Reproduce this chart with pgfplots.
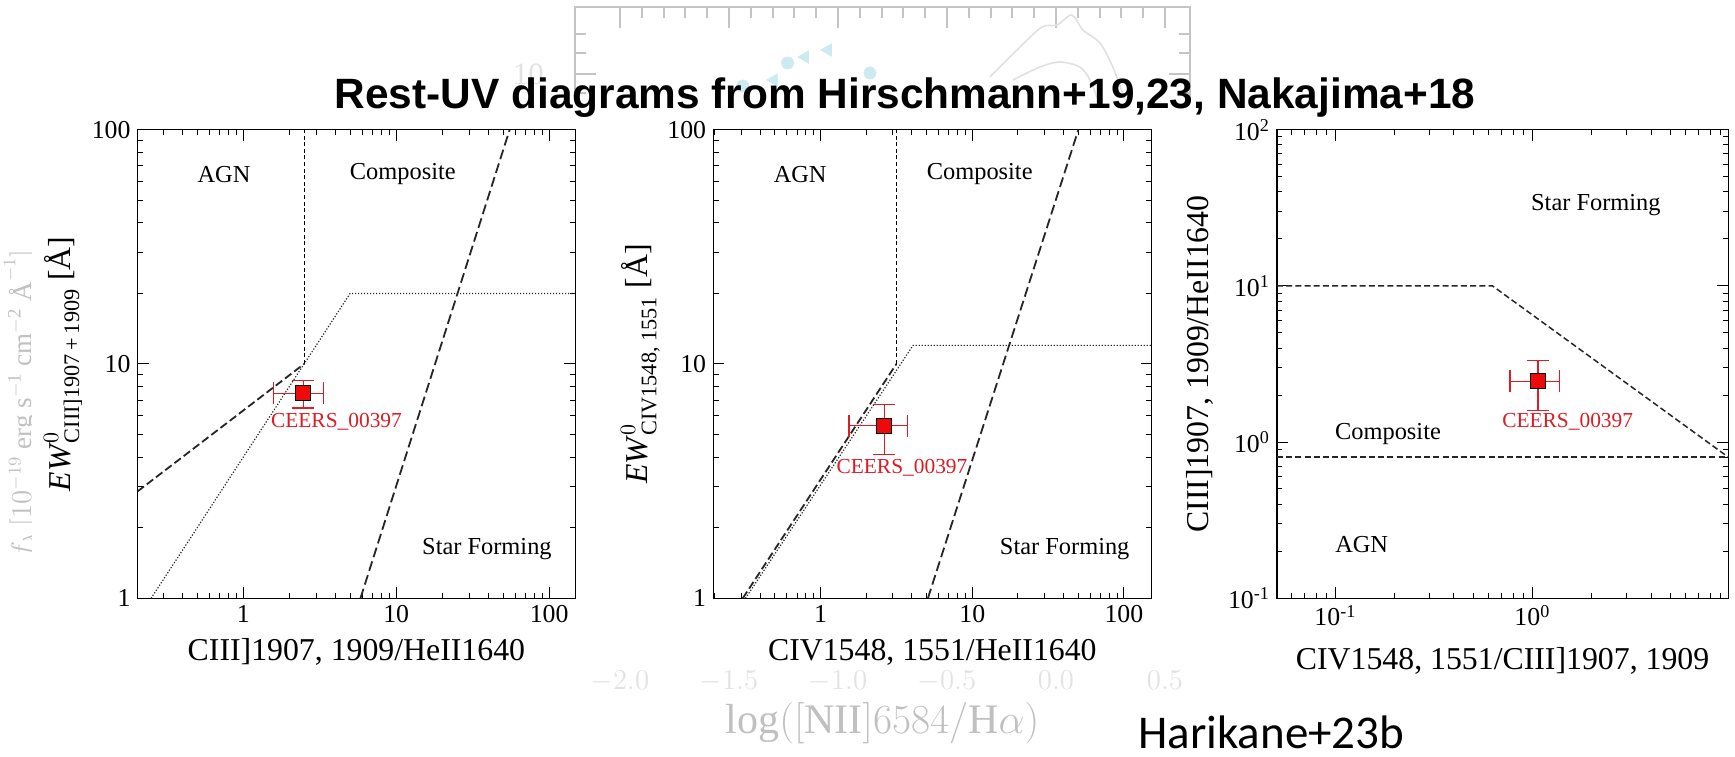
\documentclass[border=0pt]{standalone}
\usepackage{fontspec}
\usepackage{amsmath}
\usepackage{pgfplots}
\pgfplotsset{compat=1.18}
\setmainfont{Liberation Serif}
\newfontfamily\titlefont{Liberation Sans}
\newfontfamily\notefont{Carlito}

\definecolor{ceersred}{RGB}{222,28,36}
\definecolor{markred}{RGB}{238,10,10}
\definecolor{ghostline}{RGB}{196,196,196}
\definecolor{ghosttext}{RGB}{226,226,226}
\definecolor{ghostlabel}{RGB}{192,192,192}
\definecolor{ghostcyan}{RGB}{204,234,240}
\definecolor{ghostcurve}{RGB}{224,224,224}

\tikzset{
  bounddash/.style={black, line width=0.5pt, dash pattern=on 2pt off 1.3pt},
  agndash/.style={black!85, line width=0.9pt, dash pattern=on 4pt off 1.8pt},
  dotline/.style={black!85, line width=0.6pt, dash pattern=on 0.6pt off 0.9pt},
  sfdash/.style={black!85, line width=0.9pt, dash pattern=on 5pt off 2.2pt},
  ncdash/.style={black!85, line width=0.75pt, dash pattern=on 3pt off 1.6pt},
  region/.style={font=\fontsize{12.2}{14}\selectfont},
  objlabel/.style={text=ceersred, font=\fontsize{10.7}{12}\selectfont},
}

\pgfplotsset{
  /pgfplots/uvaxis/.style={
    scale only axis, anchor=south west,
    axis line style={line width=0.6pt},
    every tick/.style={black, line width=0.5pt},
    major tick length=5.5pt, minor tick length=2.8pt,
    tick align=inside,
    ticklabel style={font=\fontsize{12.9}{14}\selectfont},
    label style={font=\fontsize{15.9}{18}\selectfont},
    ylabel style={anchor=center},
    xlabel style={anchor=base},
  },
}

\begin{document}
\begin{tikzpicture}
\path[use as bounding box] (0,0) rectangle (867.5pt,378pt);

% faded figure in the background
\begin{axis}[
  at={(287.5pt,48pt)}, anchor=south west, scale only axis,
  width=307.5pt, height=326.5pt,
  xmin=-2.206, xmax=0.615, ymin=0, ymax=65.3,
  axis line style={ghostline, line width=1pt},
  every tick/.style={ghostline, line width=1pt},
  major tick length=10.5pt, minor tick length=5.5pt,
  xtick={-2,-1.5,-1,-0.5,0,0.5},
  xticklabels={$-2.0$,$-1.5$,$-1.0$,$-0.5$,$0.0$,$0.5$},
  minor x tick num=4,
  ytick={58.6}, yticklabels={10}, minor ytick={52.7,54.7,56.7,60.7,62.6},
  xticklabel style={text=ghosttext, font=\fontsize{15.5}{17}\selectfont, yshift=-2pt},
  yticklabel style={text=ghosttext, font=\fontsize{15.5}{17}\selectfont, xshift=-12pt},
  xlabel={$\log([\mathrm{NII}]6584/\mathrm{H}\alpha)$},
  xlabel style={text=ghostlabel, font=\fontsize{21}{24}\selectfont,
    at={(axis description cs:0.5,-0.097)}, anchor=center},
]
\addplot[ghostcurve, line width=0.8pt, smooth] coordinates {
  (-0.303,58.3) (-0.165,61.3) (-0.064,63.3) (0.005,63.5) (0.073,64.5)
  (0.124,63.0) (0.202,61.7) (0.261,59.3) (0.317,56.0)};
\addplot[ghostcurve, line width=0.8pt, smooth] coordinates {
  (-0.197,58.0) (-0.073,59.3) (0.018,59.8) (0.11,59.3) (0.156,58.0) (0.193,56.0)};
\addplot[only marks, mark=*, mark size=3pt, ghostcyan] coordinates {
  (-1.231,59.7) (-0.853,58.7) (-1.436,57.4)};
\addplot[only marks, mark=triangle*, mark size=3.5pt, ghostcyan,
  mark options={rotate=90}] coordinates {
  (-1.151,60.3) (-1.046,61.0) (-1.294,58.0)};
\end{axis}
\node[rotate=90, text=ghostlabel, font=\fontsize{13.5}{15}\selectfont] at (10.5pt,176pt)
  {$f_\lambda\ [10^{-19}\ \mathrm{erg\ s^{-1}\ cm^{-2}}\ \text{\AA}^{-1}]$};

\fill[white] (16pt,46.5pt) rectangle (867.5pt,328pt);

% CIII] / HeII versus EW(CIII])
\begin{axis}[uvaxis, xmode=log, ymode=log,
  at={(68.8pt,78.85pt)}, width=218.8pt, height=234.35pt,
  xmin=0.204, xmax=148, ymin=1, ymax=100,
  xtick={1,10,100}, xticklabels={1,10,100},
  ytick={1,10,100}, yticklabels={1,10,100},
  minor xtick={0.3,0.4,0.5,0.6,0.7,0.8,0.9,2,3,4,5,6,7,8,9,20,30,40,50,60,70,80,90},
  minor ytick={2,3,4,5,6,7,8,9,20,30,40,50,60,70,80,90},
  xlabel={CIII]1907, 1909/HeII1640},
  ylabel={\textit{EW}$^{0}_{\text{CIII]1907\,+\,1909}}$ [Å]},
  xlabel style={at={(axis description cs:0.5,-0.1327)}},
  ylabel style={at={(axis description cs:-0.1705,0.5)}},
]
\addplot[bounddash] coordinates {(2.5,10) (2.5,100)};
\addplot[agndash] coordinates {(0.204,2.86) (2.5,10)};
\addplot[dotline] coordinates {(0.25,1) (5,20) (148,20)};
\addplot[sfdash] coordinates {(5.84,1) (55.2,100)};
\addplot[only marks, mark=square*, mark size=3.7pt,
  mark options={fill=markred, draw=black, line width=0.6pt},
  error bars/.cd, x dir=both, x explicit, y dir=both, y explicit,
  error bar style={ceersred, line width=0.6pt},
  error mark options={rotate=90, ceersred, line width=0.6pt, mark size=5.5pt}]
  coordinates {(2.47,7.5) += (0.88,1.02) -= (0.885,1.01)};
\node[region] at (axis cs:0.749,64.4) {AGN};
\node[region] at (axis cs:11.05,64.4) {Composite};
\node[region] at (axis cs:39.2,1.615) {Star Forming};
\node[objlabel] at (axis cs:4.07,5.69) {CEERS\_00397};
\end{axis}

% CIV / HeII versus EW(CIV)
\begin{axis}[uvaxis, xmode=log, ymode=log,
  at={(356.6pt,78.85pt)}, width=219.15pt, height=234.35pt,
  xmin=0.196, xmax=152, ymin=1, ymax=100,
  xtick={1,10,100}, xticklabels={1,10,100},
  ytick={1,10,100}, yticklabels={1,10,100},
  minor xtick={0.2,0.3,0.4,0.5,0.6,0.7,0.8,0.9,2,3,4,5,6,7,8,9,20,30,40,50,60,70,80,90},
  minor ytick={2,3,4,5,6,7,8,9,20,30,40,50,60,70,80,90},
  xlabel={CIV1548, 1551/HeII1640},
  ylabel={\textit{EW}$^{0}_{\text{CIV1548, 1551}}$ [Å]},
  xlabel style={at={(axis description cs:0.5,-0.1327)}},
  ylabel style={at={(axis description cs:-0.166,0.5)}},
]
\addplot[bounddash] coordinates {(3.16,10) (3.16,100)};
\addplot[agndash] coordinates {(0.307,1) (3.16,10)};
\addplot[dotline] coordinates {(0.32,1) (4.07,12) (152,12)};
\addplot[sfdash] coordinates {(5.1,1) (50.1,100)};
\addplot[only marks, mark=square*, mark size=3.7pt,
  mark options={fill=markred, draw=black, line width=0.6pt},
  error bars/.cd, x dir=both, x explicit, y dir=both, y explicit,
  error bar style={ceersred, line width=0.6pt},
  error mark options={rotate=90, ceersred, line width=0.6pt, mark size=5.5pt}]
  coordinates {(2.63,5.45) += (1.11,1.28) -= (1.09,1.34)};
\node[region] at (axis cs:0.734,64.4) {AGN};
\node[region] at (axis cs:11.2,64.4) {Composite};
\node[region] at (axis cs:40.7,1.615) {Star Forming};
\node[objlabel] at (axis cs:3.44,3.59) {CEERS\_00397};
\end{axis}

% CIV / CIII] versus CIII] / HeII
\begin{axis}[uvaxis, xmode=log, ymode=log,
  at={(638.45pt,78.95pt)}, width=225.7pt, height=234.15pt,
  xmin=0.0505, xmax=9.87, ymin=0.1, ymax=100,
  xtick={0.1,1}, xticklabels={10\textsuperscript{-1},10\textsuperscript{0}},
  ytick={0.1,1,10,100},
  yticklabels={10\textsuperscript{-1},10\textsuperscript{0},10\textsuperscript{1},10\textsuperscript{2}},
  minor xtick={0.06,0.07,0.08,0.09,0.2,0.3,0.4,0.5,0.6,0.7,0.8,0.9,2,3,4,5,6,7,8,9},
  minor ytick={0.2,0.3,0.4,0.5,0.6,0.7,0.8,0.9,2,3,4,5,6,7,8,9,20,30,40,50,60,70,80,90},
  xlabel={CIV1548, 1551/CIII]1907, 1909},
  ylabel={CIII]1907, 1909/HeII1640},
  xlabel style={at={(axis description cs:0.5,-0.1514)}},
  ylabel style={at={(axis description cs:-0.1715,0.5)}},
]
\addplot[ncdash] coordinates {(0.0505,10) (0.627,10) (9.87,0.80)};
\addplot[ncdash] coordinates {(0.0505,0.8) (9.87,0.8)};
\addplot[only marks, mark=square*, mark size=3.7pt,
  mark options={fill=markred, draw=black, line width=0.6pt},
  error bars/.cd, x dir=both, x explicit, y dir=both, y explicit,
  error bar style={ceersred, line width=0.6pt},
  error mark options={rotate=90, ceersred, line width=0.6pt, mark size=5.5pt}]
  coordinates {(1.067,2.45) += (0.301,0.87) -= (0.297,0.85)};
\node[region] at (axis cs:2.1,33) {Star Forming};
\node[region] at (axis cs:0.185,1.12) {Composite};
\node[region] at (axis cs:0.136,0.22) {AGN};
\node[objlabel] at (axis cs:1.51,1.354) {CEERS\_00397};
\end{axis}

\node[anchor=base, font=\titlefont\bfseries\fontsize{21.2}{25}\selectfont]
  at (452.5pt,323.5pt) {Rest-UV diagrams from Hirschmann+19,23, Nakajima+18};
\node[anchor=base west, inner sep=0pt, font=\notefont\fontsize{23.5}{28}\selectfont]
  at (569pt,4pt) {Harikane+23b};
\end{tikzpicture}
\end{document}
